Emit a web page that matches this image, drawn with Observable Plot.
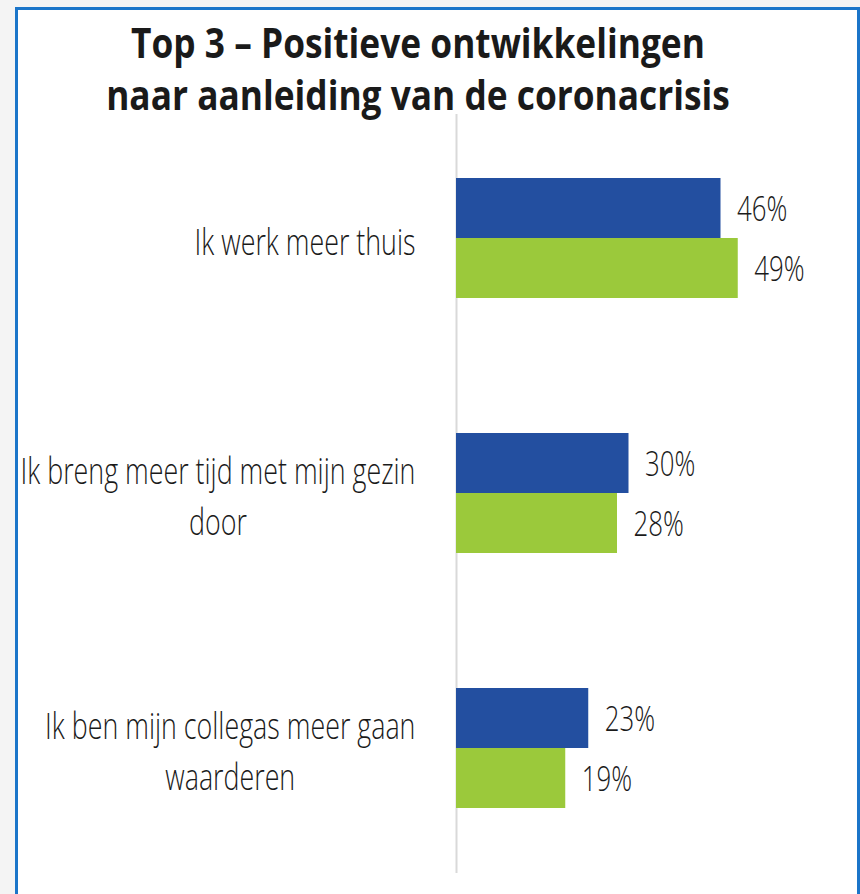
<!DOCTYPE html>
<html><head><meta charset="utf-8">
<script src="https://cdn.jsdelivr.net/npm/d3@7"></script>
<script src="https://cdn.jsdelivr.net/npm/@observablehq/plot@0.6"></script>
<style>
html,body{margin:0;padding:0;background:#f4f4f4;width:860px;height:894px;overflow:hidden;}
#frame{position:absolute;left:15px;top:7px;width:845px;height:900px;box-sizing:border-box;border:3px solid #1b75c9;border-bottom:none;background:#fff;}
#chart{position:absolute;left:0;top:0;}
#title{position:absolute;left:0;top:16px;width:836px;text-align:center;font-family:"Open Sans";font-weight:700;font-size:42px;line-height:52px;color:#1a1a1a;transform:scaleX(0.84);transform-origin:418px 0;white-space:nowrap;}
</style></head><body>
<div id="frame"></div>
<div id="chart"></div>
<div id="title">Top 3 – Positieve ontwikkelingen<br>naar aanleiding van de coronacrisis</div>
<script>
const categories = [
  "Ik werk meer thuis",
  "Ik breng meer tijd met mijn gezin\ndoor",
  "Ik ben mijn collegas meer gaan\nwaarderen"
];
const seriesBlue = [46, 30, 23];
const seriesGreen = [49, 28, 19];
const xDomain = [0, 60];

const rows = categories.map((c, i) => ({category: c, blue: seriesBlue[i], green: seriesGreen[i]}));
const SX_LABEL = 0.745; // condensed look for category labels
const SX_VALUE = 0.76;  // condensed look for value labels

const plot = Plot.plot({
  width: 860, height: 894,
  marginLeft: 456, marginRight: 59, marginTop: 114, marginBottom: 21,
  x: {domain: xDomain, axis: null},
  y: {domain: categories, axis: null, paddingInner: 0.5294, paddingOuter: 0.251},
  style: {background: "transparent", fontFamily: "Open Sans", color: "#1a1a1a"},
  marks: [
    Plot.ruleX([0], {stroke: "#d9d9d9", strokeWidth: 2}),
    Plot.barX(rows, {x: "blue", y: "category", fill: "#234fa0", insetBottom: 60}),
    Plot.barX(rows, {x: "green", y: "category", fill: "#9bc93b", insetTop: 60}),
    Plot.text(rows, {x: "blue", y: "category", text: d => d.blue + "%", dx: 16, dy: -28, textAnchor: "start", fontSize: 34, fontWeight: 300, fill: "#1a1a1a"}),
    Plot.text(rows, {x: "green", y: "category", text: d => d.green + "%", dx: 16, dy: 32, textAnchor: "start", fontSize: 34, fontWeight: 300, fill: "#1a1a1a"}),
    Plot.text(rows, {x: 0, y: "category", text: "category", dx: -41, textAnchor: "end", fontSize: 36, fontWeight: 300, lineHeight: 1.42, fill: "#1a1a1a"})
  ]
});
document.getElementById("chart").appendChild(plot);

const textGroups = plot.querySelectorAll('g[aria-label="text"]');
textGroups.forEach((g, gi) => {
  g.querySelectorAll("text").forEach(t => {
    const tr = t.getAttribute("transform") || "";
    if (gi === 2) {
      const spans = t.querySelectorAll("tspan");
      let W = 0;
      if (spans.length) spans.forEach(s => W = Math.max(W, s.getComputedTextLength()));
      else W = t.getComputedTextLength();
      t.setAttribute("text-anchor", "middle");
      t.setAttribute("transform", `${tr} translate(${-W * SX_LABEL / 2},0) scale(${SX_LABEL},1)`);
    } else {
      t.setAttribute("transform", `${tr} scale(${SX_VALUE},1)`);
    }
  });
});
</script>
</body></html>
